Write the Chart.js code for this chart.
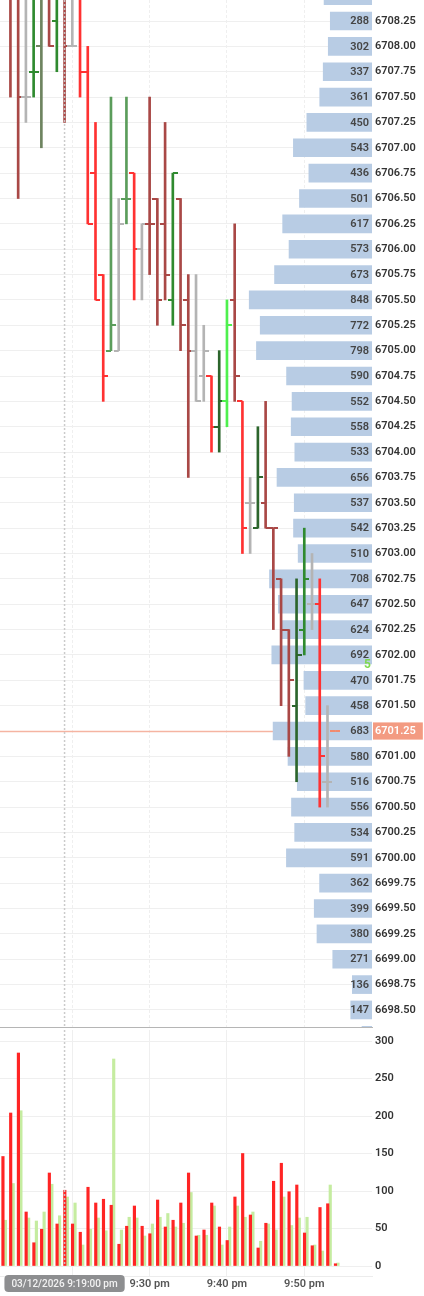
<!DOCTYPE html>
<html><head><meta charset="utf-8">
<script src="https://cdn.jsdelivr.net/npm/chart.js@4.4.1/dist/chart.umd.min.js"></script>
<style>
html,body{margin:0;padding:0;background:#fff;width:424px;height:1296px;overflow:hidden;}
#wrap{position:relative;width:424px;height:1296px;}
canvas{position:absolute;left:0;}
#c1{top:0;} #c2{top:1030px;}
</style></head><body>
<div id="wrap"><canvas id="c1" width="424" height="1032"></canvas><canvas id="c2" width="424" height="266"></canvas></div>
<script>
// ---------------- DATA ----------------
const times = ['9:11 pm','9:12 pm','9:13 pm','9:14 pm','9:15 pm','9:16 pm','9:17 pm','9:18 pm','9:19 pm','9:20 pm',
  '9:21 pm','9:22 pm','9:23 pm','9:24 pm','9:25 pm','9:26 pm','9:27 pm','9:28 pm','9:29 pm','9:30 pm',
  '9:31 pm','9:32 pm','9:33 pm','9:34 pm','9:35 pm','9:36 pm','9:37 pm','9:38 pm','9:39 pm','9:40 pm',
  '9:41 pm','9:42 pm','9:43 pm','9:44 pm','9:45 pm','9:46 pm','9:47 pm','9:48 pm','9:49 pm','9:50 pm',
  '9:51 pm','9:52 pm','9:53 pm','9:54 pm'];
const opens = [6709.50,6709.00,6708.75,6707.50,6707.75,6708.00,6708.75,6708.25,6708.75,6708.00,
  6708.75,6707.75,6706.75,6705.75,6705.00,6705.00,6706.50,6706.75,6706.00,6706.25,
  6706.50,6706.25,6705.50,6706.50,6705.50,6705.00,6704.75,6704.75,6704.25,6704.50,
  6705.50,6704.50,6703.50,6703.25,6703.50,6703.25,6702.75,6702.25,6701.50,6702.25,
  6702.50,6702.50,6700.75,6701.25];
const highs = [6710.00,6709.25,6709.00,6708.75,6709.00,6709.00,6709.00,6709.00,6709.00,6708.75,
  6709.00,6708.00,6707.25,6705.75,6707.50,6706.50,6707.50,6706.75,6706.25,6707.50,
  6706.50,6707.25,6706.75,6706.50,6705.75,6705.75,6705.25,6704.75,6705.00,6705.50,
  6706.25,6704.50,6703.75,6704.25,6704.50,6703.25,6702.75,6702.25,6702.75,6703.25,
  6703.00,6702.75,6701.50,6701.25];
const lows = [6708.75,6707.50,6706.50,6707.25,6707.50,6707.00,6708.00,6707.75,6707.25,6708.00,
  6707.50,6706.25,6705.50,6704.50,6705.00,6705.00,6706.25,6705.50,6705.50,6705.75,
  6705.25,6705.50,6705.25,6705.00,6703.75,6704.50,6704.50,6704.00,6704.00,6704.25,
  6704.50,6703.00,6703.00,6703.25,6703.25,6702.25,6701.50,6701.00,6700.75,6702.00,
  6702.25,6700.50,6700.50,6701.25];
const closes = [6709.00,6708.75,6707.50,6707.50,6707.75,6708.75,6708.00,6708.75,6708.00,6708.00,
  6707.75,6706.25,6705.50,6704.75,6705.25,6706.25,6706.50,6706.00,6706.25,6706.25,
  6705.50,6705.75,6706.75,6705.25,6705.00,6704.50,6705.00,6704.25,6704.50,6705.25,
  6704.75,6703.25,6703.50,6703.75,6703.25,6703.25,6702.25,6701.75,6702.00,6702.75,
  6702.50,6701.00,6700.75,6701.25];
const barKind = ['down','down','down','flat','up','upDull','down','up','down','flat',
  'drop','drop','drop','drop','upSoft','flat','upSoft','drop','flat','down',
  'down','down','up','down','down','flat','flat','drop','upDeep','upStrong',
  'down','drop','flat','upDeep','down','down','down','down','upDeep','up',
  'flat','drop','flat','live'];
const sellVolume = [146,204,284,72,31,49,124,56,101,56,45,105,84,89,81,29,53,80,53,43,
  88,52,61,84,124,40,48,84,52,34,92,150,68,24,57,113,137,99,108,44,27,78,83,3];
const buyVolume = [61,110,207,64,60,72,109,67,92,84,28,49,64,47,276,48,65,64,40,56,
  65,70,52,57,98,41,41,80,28,52,80,65,72,33,56,48,92,54,64,65,28,20,108,4];
const profilePrices = [6708.50,6708.25,6708.00,6707.75,6707.50,6707.25,6707.00,6706.75,6706.50,6706.25,
  6706.00,6705.75,6705.50,6705.25,6705.00,6704.75,6704.50,6704.25,6704.00,6703.75,
  6703.50,6703.25,6703.00,6702.75,6702.50,6702.25,6702.00,6701.75,6701.50,6701.25,
  6701.00,6700.75,6700.50,6700.25,6700.00,6699.75,6699.50,6699.25,6699.00,6698.75,
  6698.50,6698.25];
const profileVolume = [331,288,302,337,361,450,543,436,501,617,
  573,673,848,772,798,590,552,558,533,656,
  537,542,510,708,647,624,692,470,458,683,
  580,516,556,534,591,362,399,380,271,136,
  147,69];
const priceTickLabels = profilePrices.slice(1, -1);
const volumeTicks = [0,50,100,150,200,250,300];
const gridTimes = ['9:20 pm','9:30 pm','9:40 pm','9:50 pm'];
const lastPrice = 6701.25;
const crosshairTime = '9:19 pm';
const crosshairLabel = '03/12/2026 9:19:00 pm';
const timerText = '5';
const timerPrice = 6701.9;

// ---------------- LAYOUT CONSTANTS ----------------
const X0 = 2.7, DX = 7.733;             // page px of first minute, px per minute
const P_REF = 6708.25, P_REF_Y = 21, PX_PER_PT = 101.43;
const V_ZERO_Y = 1266, PX_PER_VOL = 0.75, VOL_TOP = 1030;
const PROFILE_PX_PER_UNIT = 0.1448;
const AXIS_W = 52;

const kindColor = {down:'#a94846', drop:'#ff3232', up:'#2f8a2f', upSoft:'#5b9d5b', upDull:'#6e8460',
  upDeep:'#2c652c', upStrong:'#4ef04e', flat:'#b4b4b4', live:'#f28a6e'};

Chart.defaults.font.family = 'Roboto, "Noto Sans", sans-serif';

function tickImage(color, side) {
  const c = document.createElement('canvas'); c.width = 10; c.height = 2;
  const g = c.getContext('2d'); g.fillStyle = color;
  g.fillRect(side === 'L' ? 0 : 5, 0, 5, 2);
  return c;
}
const leftTick = {}, rightTick = {};
Object.keys(kindColor).forEach(k => { leftTick[k] = tickImage(kindColor[k], 'L'); rightTick[k] = tickImage(kindColor[k], 'R'); });

const idx = times.map((_, i) => i);
const gridIdx = gridTimes.map(t => times.indexOf(t));
const crossIdx = times.indexOf(crosshairTime);

const axisFont = {size: 11, weight: '600'};

// ---------------- PRICE CHART ----------------
const priceDecor = {
  id: 'priceDecor',
  beforeDatasetsDraw(chart) {
    const {ctx, chartArea: a, scales: {y}} = chart;
    const py = Math.round(y.getPixelForValue(lastPrice)) + 0.5;
    ctx.save();
    ctx.strokeStyle = 'rgba(247,160,136,0.75)'; ctx.lineWidth = 1.5;
    ctx.beginPath(); ctx.moveTo(a.left, py); ctx.lineTo(a.right, py); ctx.stroke();
    ctx.restore();
  },
  afterDatasetsDraw(chart) {
    const {ctx, chartArea: a, scales: {x, y}} = chart;
    ctx.save();
    ctx.beginPath(); ctx.rect(a.left, a.top, a.width, a.height); ctx.clip();
    const meta = chart.getDatasetMeta(3);
    ctx.font = '600 11px Roboto, "Noto Sans", sans-serif';
    ctx.fillStyle = '#454545'; ctx.textAlign = 'right'; ctx.textBaseline = 'middle';
    meta.data.forEach((el, i) => { ctx.fillText(String(profileVolume[i]), el.base - 3, el.y + 0.5); });
    // crosshair
    const cx = x.getPixelForValue(crossIdx);
    ctx.setLineDash([2, 2]); ctx.strokeStyle = 'rgba(200,200,200,0.95)'; ctx.lineWidth = 1.5;
    ctx.beginPath(); ctx.moveTo(cx, a.top); ctx.lineTo(cx, a.bottom); ctx.stroke();
    ctx.setLineDash([]);
    // timer
    ctx.font = 'bold 12px Roboto, "Noto Sans", sans-serif';
    ctx.fillStyle = '#7fd94f'; ctx.textAlign = 'right';
    ctx.fillText(timerText, a.right - 1, y.getPixelForValue(timerPrice));
    ctx.restore();
  }
};

const priceChart = new Chart(document.getElementById('c1'), {
  type: 'bar',
  data: {
    datasets: [
      { type: 'bar', label: 'High-Low', data: idx.map(i => ({x: i, y: [lows[i], highs[i]]})),
        backgroundColor: barKind.map(k => kindColor[k]), barThickness: 2, grouped: false,
        xAxisID: 'x', yAxisID: 'y', order: 2, clip: 0 },
      { type: 'scatter', label: 'Open', data: idx.map(i => ({x: i, y: opens[i]})),
        pointStyle: c => leftTick[barKind[c.dataIndex]], pointRadius: 4,
        xAxisID: 'x', yAxisID: 'y', order: 1, clip: 0 },
      { type: 'scatter', label: 'Close', data: idx.map(i => ({x: i, y: closes[i]})),
        pointStyle: c => rightTick[barKind[c.dataIndex]], pointRadius: 4,
        xAxisID: 'x', yAxisID: 'y', order: 1, clip: 0 },
      { type: 'bar', label: 'Volume profile', indexAxis: 'y',
        data: profilePrices.map((p, i) => ({y: p, x: [0, profileVolume[i]]})),
        backgroundColor: '#b8cce4', barThickness: 18, grouped: false,
        xAxisID: 'xp', yAxisID: 'y', order: 5, clip: 0 }
    ]
  },
  options: {
    responsive: false, animation: false, devicePixelRatio: 1, events: [],
    layout: {padding: 0, autoPadding: false},
    plugins: {legend: {display: false}, tooltip: {enabled: false}},
    scales: {
      x: { type: 'linear', position: 'bottom', min: 0, max: 48, offset: false,
        afterBuildTicks: s => { s.ticks = gridIdx.map(v => ({value: v})); },
        ticks: {display: false},
        grid: {color: '#efefef', drawTicks: false, offset: false},
        border: {display: true, dash: [3, 2], color: '#b5b5b5'},
        afterFit: s => { s.height = 5; } },
      xp: { type: 'linear', axis: 'x', position: 'top', display: false, reverse: true, offset: false, min: 0, max: 2569 },
      y: { type: 'linear', position: 'right', min: 6698.3, max: 6708.45, offset: false,
        afterBuildTicks: s => { s.ticks = priceTickLabels.map(v => ({value: v})); },
        ticks: { autoSkip: false, padding: -7, font: axisFont,
          color: c => c.tick && c.tick.value === lastPrice ? '#ffffff' : '#333333',
          showLabelBackdrop: c => !!(c.tick && c.tick.value === lastPrice),
          backdropColor: '#f39b82', backdropPadding: {top: 2, bottom: 2, left: 2, right: 7},
          callback: v => Number(v).toFixed(2) },
        grid: {color: '#efefef', tickLength: 10, tickColor: 'rgba(0,0,0,0)', offset: false},
        border: {display: false},
        afterFit: s => { s.width = AXIS_W; } }
    }
  },
  plugins: [priceDecor]
});

(function fitPrice() {
  const a = priceChart.chartArea, s = priceChart.options.scales;
  s.x.min = (a.left - X0) / DX; s.x.max = (a.right - X0) / DX;
  s.y.min = P_REF - (a.bottom - P_REF_Y) / PX_PER_PT;
  s.y.max = P_REF - (a.top - P_REF_Y) / PX_PER_PT;
  s.xp.min = 0; s.xp.max = (a.right - a.left) / PROFILE_PX_PER_UNIT;
  priceChart.update('none');
})();

// ---------------- VOLUME CHART ----------------
const volDecor = {
  id: 'volDecor',
  afterDatasetsDraw(chart) {
    const {ctx, chartArea: a, scales: {x, y}} = chart;
    const cx = x.getPixelForValue(crossIdx);
    ctx.save();
    ctx.setLineDash([2, 2]); ctx.strokeStyle = 'rgba(200,200,200,0.95)'; ctx.lineWidth = 1.5;
    ctx.beginPath(); ctx.moveTo(cx, a.top); ctx.lineTo(cx, y.getPixelForValue(0)); ctx.stroke();
    ctx.restore();
  },
  afterDraw(chart) {
    const {ctx, chartArea: a, scales: {x}} = chart;
    const cx = x.getPixelForValue(crossIdx);
    ctx.save();
    ctx.font = '500 10px Roboto, "Noto Sans", sans-serif';
    const w = ctx.measureText(crosshairLabel).width + 14, h = 17;
    const bx = Math.max(2, cx - w / 2), by = a.bottom - 1;
    ctx.fillStyle = '#8d8e90';
    ctx.beginPath();
    if (ctx.roundRect) ctx.roundRect(bx, by, w, h, 4); else ctx.rect(bx, by, w, h);
    ctx.fill();
    ctx.fillStyle = '#f2f2f2'; ctx.textAlign = 'center'; ctx.textBaseline = 'middle';
    ctx.fillText(crosshairLabel, bx + w / 2, by + h / 2 + 0.5);
    ctx.restore();
  }
};

const volChart = new Chart(document.getElementById('c2'), {
  type: 'bar',
  data: {
    datasets: [
      { label: 'Sell', data: idx.map(i => ({x: i, y: sellVolume[i]})), backgroundColor: '#ff2424',
        barThickness: 2.5, xAxisID: 'xv', yAxisID: 'y' },
      { label: 'Buy', data: idx.map(i => ({x: i, y: buyVolume[i]})), backgroundColor: '#c5eca0',
        barThickness: 2.5, xAxisID: 'xv', yAxisID: 'y' }
    ]
  },
  options: {
    responsive: false, animation: false, devicePixelRatio: 1, events: [],
    layout: {padding: 0, autoPadding: false},
    plugins: {legend: {display: false}, tooltip: {enabled: false}},
    scales: {
      x: { type: 'linear', position: 'bottom', min: 0, max: 48, offset: false,
        afterBuildTicks: s => { s.ticks = gridIdx.map(v => ({value: v})); },
        ticks: { padding: 2, color: '#555555', font: {size: 11, weight: '600'}, autoSkip: false, maxRotation: 0,
          callback: v => Math.abs(v - crossIdx) < 3 ? '' : times[v] },
        grid: {color: '#efefef', drawTicks: false, offset: false},
        border: {display: true, color: '#ececec'},
        afterFit: s => { s.height = 20; } },
      xv: { type: 'linear', axis: 'x', position: 'bottom', display: false, offset: false, min: 0, max: 48 },
      y: { type: 'linear', position: 'right', min: -13, max: 315, offset: false,
        afterBuildTicks: s => { s.ticks = volumeTicks.map(v => ({value: v})); },
        ticks: { autoSkip: false, padding: -7, font: axisFont, color: '#333333' },
        grid: {color: '#efefef', tickLength: 10, tickColor: 'rgba(0,0,0,0)'},
        border: {display: false},
        afterFit: s => { s.width = AXIS_W; } }
    }
  },
  plugins: [volDecor]
});

(function fitVol() {
  const a = volChart.chartArea, s = volChart.options.scales;
  s.x.min = (a.left - X0) / DX; s.x.max = (a.right - X0) / DX;
  s.xv.min = (a.left - X0 - 1.5) / DX; s.xv.max = (a.right - X0 - 1.5) / DX;
  s.y.min = (V_ZERO_Y - (VOL_TOP + a.bottom)) / PX_PER_VOL;
  s.y.max = (V_ZERO_Y - (VOL_TOP + a.top)) / PX_PER_VOL;
  volChart.update('none');
})();
</script>
</body></html>
